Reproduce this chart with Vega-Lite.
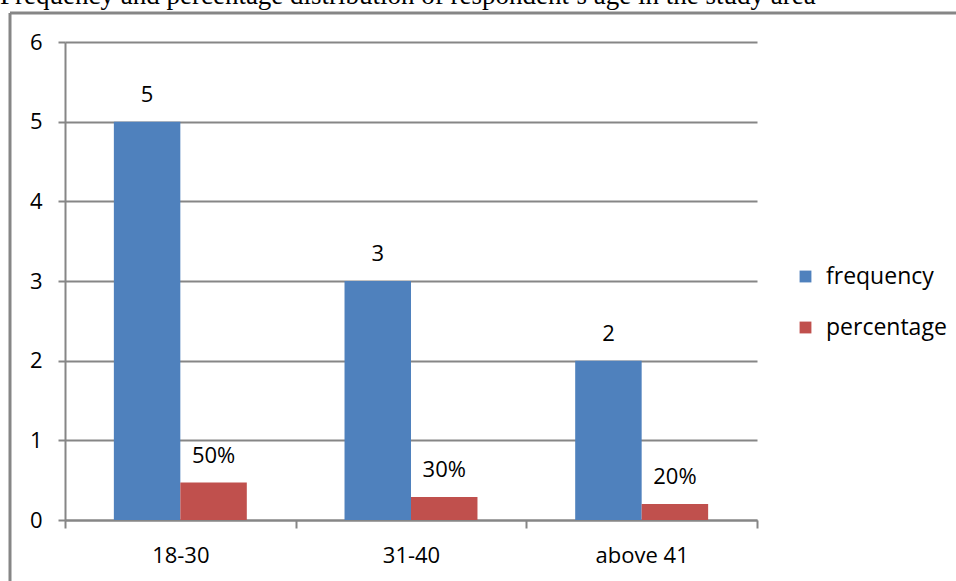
{
  "$schema": "https://vega.github.io/schema/vega-lite/v6.json",
  "width": 692,
  "height": 478,
  "autosize": {"type": "none"},
  "padding": {"left": 65, "top": 42, "right": 199, "bottom": 61},
  "background": "white",
  "title": {
    "text": "Frequency and percentage distribution of respondent’s age in the study area",
    "anchor": "start",
    "frame": "group",
    "dx": -65,
    "dy": 19,
    "font": "Liberation Serif",
    "fontSize": 27,
    "fontWeight": "normal",
    "color": "black",
    "baseline": "alphabetic",
    "offset": 0
  },
  "config": {
    "view": {"stroke": null},
    "font": "Open Sans",
    "axis": {
      "labelFont": "Open Sans",
      "labelFontSize": 22,
      "labelColor": "black",
      "domainColor": "#868686",
      "domainWidth": 2,
      "tickColor": "#868686",
      "tickWidth": 2,
      "gridColor": "#868686",
      "gridWidth": 2,
      "title": null
    }
  },
  "datasets": {
    "ages": [
      {"age": "18-30", "series": "frequency", "value": 5, "label": "5"},
      {"age": "18-30", "series": "percentage", "value": 0.47, "label": "50%"},
      {"age": "31-40", "series": "frequency", "value": 3, "label": "3"},
      {"age": "31-40", "series": "percentage", "value": 0.29, "label": "30%"},
      {"age": "above 41", "series": "frequency", "value": 2, "label": "2"},
      {"age": "above 41", "series": "percentage", "value": 0.2, "label": "20%"}
    ],
    "frame": [{"top": 6.364, "bottom": -0.8, "first": "18-30", "last": "above 41"}]
  },
  "layer": [
    {
      "data": {"name": "ages"},
      "encoding": {
        "x": {
          "field": "age",
          "type": "nominal",
          "sort": null,
          "scale": {"paddingInner": 0, "paddingOuter": 0},
          "axis": {
            "labelAngle": 0,
            "tickBand": "extent",
            "tickSize": 8,
            "labelPadding": 17,
            "grid": false
          }
        },
        "y": {
          "field": "value",
          "type": "quantitative",
          "scale": {"domain": [0, 6], "nice": false},
          "axis": {
            "values": [0, 1, 2, 3, 4, 5, 6],
            "format": "d",
            "tickSize": 7,
            "labelPadding": 16,
            "grid": true,
            "domain": true
          }
        },
        "xOffset": {
          "field": "series",
          "type": "nominal",
          "scale": {"paddingInner": 0, "paddingOuter": 0.735}
        }
      },
      "layer": [
        {
          "mark": {"type": "bar"},
          "encoding": {
            "color": {
              "field": "series",
              "type": "nominal",
              "scale": {"domain": ["frequency", "percentage"], "range": ["#4F81BD", "#C0504D"]},
              "legend": {
                "orient": "none",
                "legendX": 729,
                "legendY": 223,
                "title": null,
                "symbolType": "square",
                "symbolSize": 140,
                "symbolStrokeWidth": 0,
                "labelFont": "Open Sans",
                "labelFontSize": 23,
                "labelColor": "black",
                "labelOffset": 9,
                "rowPadding": 27
              }
            }
          }
        },
        {
          "mark": {"type": "text", "dy": -27, "fontSize": 22, "font": "Open Sans", "color": "black", "baseline": "middle"},
          "encoding": {"text": {"field": "label"}}
        }
      ]
    },
    {
      "data": {"name": "frame"},
      "mark": {"type": "rule", "color": "#868686", "strokeWidth": 3, "xOffset": -55, "x2Offset": 365},
      "encoding": {
        "x": {"field": "first", "type": "nominal", "bandPosition": 0},
        "x2": {"field": "last"},
        "y": {"field": "top", "type": "quantitative"}
      }
    },
    {
      "data": {"name": "frame"},
      "mark": {"type": "rule", "color": "#868686", "strokeWidth": 3, "xOffset": -55},
      "encoding": {
        "x": {"field": "first", "type": "nominal", "bandPosition": 0},
        "y": {"field": "top", "type": "quantitative"},
        "y2": {"field": "bottom"}
      }
    }
  ]
}
